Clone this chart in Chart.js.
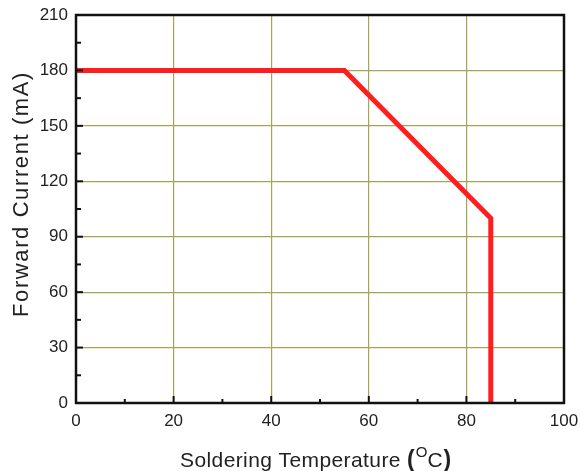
<!DOCTYPE html>
<html>
<head>
<meta charset="utf-8">
<script src="https://cdn.jsdelivr.net/npm/chart.js@4.4.1/dist/chart.umd.min.js"></script>
<style>
  html, body { margin: 0; padding: 0; background: #fff; }
  #wrap { width: 580px; height: 471px; position: relative; overflow: hidden; }
</style>
</head>
<body>
<div id="wrap"><canvas id="graphic" width="580" height="471"></canvas></div>
<script>
// derating curve
const temperature = [0, 55, 85, 85];
const current = [180, 180, 100, 0];

// axis setup
const xMin = 0, xMax = 100, xStep = 10, xLabelEvery = 20;
const yMin = 0, yMax = 210, yStep = 15, yLabelEvery = 30;

const xTitle = "Soldering Temperature ";
const yTitle = "Forward Current (mA)";

const gridColor = "rgb(165,165,85)";
const tickFont = { family: "'Liberation Sans', Arial, sans-serif", size: 17 };

function isMajor(v, every) {
    return Math.abs(v / every - Math.round(v / every)) < 1e-6;
}

// box around plot + little inward ticks, drawn over the line
const framePlugin = {
    id: "frame",
    afterDatasetsDraw(chart) {
        const ctx = chart.ctx;
        const a = chart.chartArea;
        const xs = chart.scales.x, ys = chart.scales.y;
        ctx.save();
        ctx.strokeStyle = "#111";
        ctx.lineWidth = 2;
        xs.ticks.forEach(t => {
            const px = xs.getPixelForValue(t.value);
            const len = isMajor(t.value, xLabelEvery) ? 7 : 4;
            ctx.beginPath();
            ctx.moveTo(px, a.bottom);
            ctx.lineTo(px, a.bottom - len);
            ctx.stroke();
        });
        ys.ticks.forEach(t => {
            const py = ys.getPixelForValue(t.value);
            const len = isMajor(t.value, yLabelEvery) ? 7 : 5;
            ctx.beginPath();
            ctx.moveTo(a.left, py);
            ctx.lineTo(a.left + len, py);
            ctx.stroke();
        });
        ctx.lineWidth = 2.5;
        ctx.strokeRect(a.left, a.top, a.right - a.left, a.bottom - a.top);
        ctx.restore();
    }
};

// axis titles (x one has the bold brackets and raised O like the original)
const titlePlugin = {
    id: "titles",
    afterDraw(chart) {
        const ctx = chart.ctx;
        ctx.save();
        ctx.fillStyle = "#222";
        ctx.textBaseline = "alphabetic";

        // y title
        ctx.translate(28, 194);
        ctx.rotate(-Math.PI / 2);
        ctx.font = "22px 'Liberation Sans', Arial, sans-serif";
        ctx.letterSpacing = "1.6px";
        ctx.textAlign = "center";
        ctx.fillText(yTitle, 0, 0);
        ctx.setTransform(1, 0, 0, 1, 0, 0);

        // x title
        ctx.textAlign = "left";
        let x = 180;
        const base = 467;
        ctx.font = "21px 'Liberation Sans', Arial, sans-serif";
        ctx.letterSpacing = "0.4px";
        ctx.fillText(xTitle, x, base);
        x += ctx.measureText(xTitle).width;
        ctx.letterSpacing = "0px";
        ctx.font = "bold 23px 'Liberation Sans', Arial, sans-serif";
        ctx.fillText("(", x, base);
        x += ctx.measureText("(").width + 1;
        ctx.font = "15px 'Liberation Sans', Arial, sans-serif";
        ctx.fillText("O", x, base - 10);
        x += ctx.measureText("O").width;
        ctx.font = "21px 'Liberation Sans', Arial, sans-serif";
        ctx.fillText("C", x, base);
        x += ctx.measureText("C").width + 1;
        ctx.font = "bold 23px 'Liberation Sans', Arial, sans-serif";
        ctx.fillText(")", x, base);
        ctx.restore();
    }
};

const config = {
    type: "line",
    data: {
        datasets: [{
            label: "Forward Current",
            data: temperature.map((t, i) => ({ x: t, y: current[i] })),
            borderColor: "rgb(255,30,30)",
            backgroundColor: "rgb(255,30,30)",
            borderWidth: 5,
            pointRadius: 0,
            tension: 0,
            fill: false,
            clip: 0,
            borderJoinStyle: "miter"
        }]
    },
    options: {
        responsive: false,
        animation: false,
        events: [],
        layout: { padding: { top: 15, right: 16, left: 0, bottom: 0 } },
        plugins: { legend: { display: false }, tooltip: { enabled: false } },
        scales: {
            x: {
                type: "linear",
                min: xMin, max: xMax,
                border: { display: false },
                grid: {
                    drawTicks: false,
                    lineWidth: 1.2,
                    color: c => (c.tick && isMajor(c.tick.value, xLabelEvery) && c.tick.value > xMin && c.tick.value < xMax) ? gridColor : "rgba(0,0,0,0)"
                },
                ticks: {
                    stepSize: xStep,
                    autoSkip: false,
                    maxRotation: 0,
                    padding: 8,
                    color: "#222",
                    font: tickFont,
                    callback: v => isMajor(v, xLabelEvery) ? String(v) : ""
                },
                afterFit: s => { s.height = 68; s.paddingRight = 0; s.paddingLeft = 0; }
            },
            y: {
                type: "linear",
                min: yMin, max: yMax,
                border: { display: false },
                grid: {
                    drawTicks: false,
                    lineWidth: 1.2,
                    color: c => (c.tick && isMajor(c.tick.value, yLabelEvery) && c.tick.value > yMin && c.tick.value < yMax) ? gridColor : "rgba(0,0,0,0)"
                },
                ticks: {
                    stepSize: yStep,
                    autoSkip: false,
                    padding: 8,
                    color: "#222",
                    font: tickFont,
                    callback: v => isMajor(v, yLabelEvery) ? String(v) : ""
                },
                afterFit: s => { s.width = 76; s.paddingTop = 0; s.paddingBottom = 0; }
            }
        }
    },
    plugins: [framePlugin, titlePlugin]
};

new Chart(document.getElementById("graphic"), config);
</script>
</body>
</html>
